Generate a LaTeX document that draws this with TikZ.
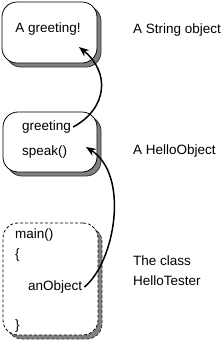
\documentclass[tikz,border=0pt]{standalone}
\usepackage{fontspec}
\setmainfont{Liberation Sans}
\usetikzlibrary{arrows.meta,shadows}
\tikzset{
  objbox/.style={draw=black, line width=0.8pt, fill=white, rounded corners=15pt,
    minimum width=#1, inner sep=0pt},
  shad/.style={fill=black!50, draw=black!80, line width=0.8pt, rounded corners=15pt},
  lbl/.style={anchor=west, inner sep=0pt, font=\fontsize{13.5}{16}\selectfont},
  link/.style={line width=1.5pt, -{Stealth[length=10pt,width=8pt]}},
}
\begin{document}
\begin{tikzpicture}[x=1pt,y=-1pt]
\useasboundingbox (0,0) rectangle (223,349);
% shadows
\draw[shad] (6,6) rectangle (101,67);
\draw[shad] (7,116) rectangle (101,176);
\draw[shad,dashed,dash pattern=on 3pt off 2pt] (7,227) rectangle (102,339);
% boxes
\node[objbox=95pt, minimum height=61pt] (b1) at (49.5,32.5) {};
\node[objbox=94pt, minimum height=60pt] (b2) at (50,142) {};
\node[objbox=95pt, minimum height=112pt, dashed, dash pattern=on 3pt off 2pt] (b3) at (50.5,279) {};
% texts
\node[lbl, anchor=center] (t1) at (48,29) {A greeting!};
\node[lbl] (g) at (22,127) {greeting};
\node[lbl] (s) at (22,152) {speak()};
\node[lbl] (m) at (15,235) {main()};
\node[lbl] (ob) at (15,255) {\{};
\node[lbl] (ao) at (28,287) {anObject};
\node[lbl] (cb) at (15,326) {\}};
\node[lbl] (l1) at (133,30) {A String object};
\node[lbl] (l2) at (133,151) {A HelloObject};
\node[lbl, align=left, font=\fontsize{13.5}{20}\selectfont] (l3) at (133,271) {The class\\HelloTester};
% arrows
\coordinate (e1) at (79,47);
\coordinate (e2) at (86,147);
\draw[link] ([xshift=2pt]g.east) .. controls (108,108) and (110,72) .. (e1);
\draw[link] ([xshift=2pt]ao.east) .. controls (115,262) and (130,175) .. (e2);
\end{tikzpicture}
\end{document}
